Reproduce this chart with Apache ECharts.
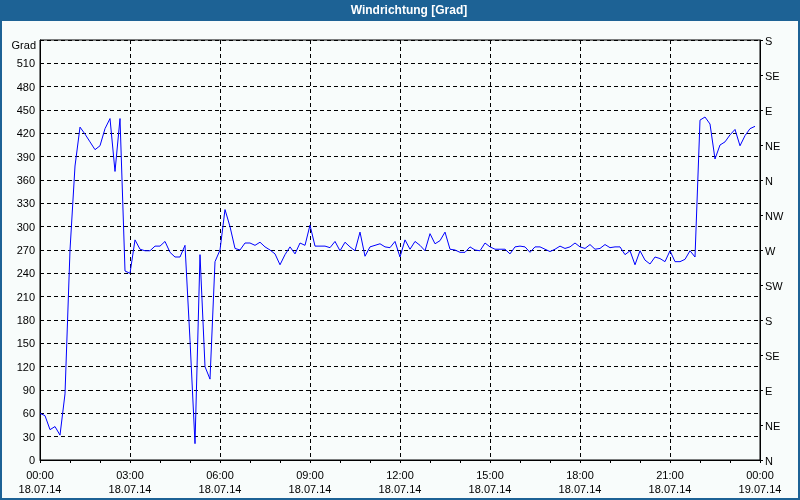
<!DOCTYPE html>
<html>
<head>
<meta charset="utf-8">
<script src="https://cdn.jsdelivr.net/npm/echarts@6/dist/echarts.min.js"></script>
<style>
html,body{margin:0;padding:0;background:#f8fcfb;}
#chart{width:800px;height:500px;}
</style>
</head>
<body>
<div id="chart"></div>
<script>
// Time of day in minutes since 18.07.14 00:00
const times = [
  0,10,20,30,40,50,60,70,80,90,100,110,120,130,140,150,160,170,180,190,
  200,210,220,230,240,250,260,270,280,290,300,310,320,330,340,350,360,370,380,390,
  400,410,420,430,440,450,460,470,480,490,500,510,520,530,540,550,560,570,580,590,
  600,610,620,630,640,650,660,670,680,690,700,710,720,730,740,750,760,770,780,790,
  800,810,820,830,840,850,860,870,880,890,900,910,920,930,940,950,960,970,980,990,
  1000,1010,1020,1030,1040,1050,1060,1070,1080,1090,1100,1110,1120,1130,1140,1150,1160,1170,1180,1190,
  1200,1210,1220,1230,1240,1250,1260,1270,1280,1290,1300,1310,1320,1330,1340,1350,1360,1370,1380,1390,
  1400,1410,1420,1430
];
// Wind direction [Grad]
const windDir = [
  60,57,39,43,32,85,270,378,428,419,409,399,404,426,439,371,439,243,240,283,
  271,269,269,275,275,281,267,261,261,276,154,21,264,120,104,255,270,322,300,272,
  270,279,279,276,280,274,270,265,251,264,274,265,279,276,302,275,275,275,273,281,
  269,280,274,269,293,262,274,276,278,274,273,281,261,283,271,281,276,269,291,278,
  282,293,271,270,267,267,274,270,269,279,274,271,271,271,265,274,275,274,267,274,
  274,271,268,271,275,272,274,279,274,272,277,271,272,277,273,274,274,264,269,251,
  269,257,252,261,259,255,269,255,255,258,269,261,437,441,432,387,405,409,418,425,
  404,417,426,429
];
const dirLabels = ['N','NE','E','SE','S','SW','W','NW','N','NE','E','SE','S'];
const dayLabels = ['18.07.14','19.07.14'];
const titleText = 'Windrichtung [Grad]';
const unitLabel = 'Grad';

const FONT = '"Liberation Sans", Arial, sans-serif';
const chart = echarts.init(document.getElementById('chart'), null, {renderer:'canvas'});

function pad2(n){ return (n < 10 ? '0' : '') + n; }

chart.setOption({
  animation: false,
  backgroundColor: '#f8fcfb',
  grid: {left:40, right:40, top:40, bottom:40, show:true, backgroundColor:'#f8fcfb', borderColor:'#000', borderWidth:1},
  graphic: [
    {type:'rect', z:100, shape:{x:0, y:0, width:800, height:21}, style:{fill:'#1d6295'}},
    {type:'rect', z:100, shape:{x:1, y:1, width:798, height:498}, style:{fill:'none', stroke:'#1d6295', lineWidth:2}},
    {type:'text', z:101, style:{text:titleText, x:409, y:11, fill:'#ffffff', fontFamily:FONT, fontSize:12, fontWeight:'bold', textAlign:'center', textVerticalAlign:'middle'}},
    {type:'text', z:101, style:{text:unitLabel, x:36, y:46, fill:'#000', fontFamily:FONT, fontSize:11, textAlign:'right', textVerticalAlign:'middle'}}
  ],
  xAxis: {
    type:'value', min:0, max:1440, interval:180,
    axisLine:{show:true, lineStyle:{color:'#000', width:1}},
    axisTick:{show:true, length:3, lineStyle:{color:'#000'}},
    minorTick:{show:true, splitNumber:3, length:3, lineStyle:{color:'#000'}},
    splitLine:{show:true, lineStyle:{color:'#000', width:1, type:[4,3]}},
    axisLabel:{
      color:'#000', fontFamily:FONT, fontSize:11, lineHeight:14, margin:9,
      formatter: function(v){
        const m = v % 1440;
        const day = v >= 1440 ? dayLabels[1] : dayLabels[0];
        return pad2(Math.floor(m/60)) + ':' + pad2(m % 60) + '\n' + day;
      }
    }
  },
  yAxis: [
    {
      type:'value', position:'left', min:0, max:540, interval:30,
      axisLine:{show:true, lineStyle:{color:'#000'}},
      axisTick:{show:false},
      splitLine:{show:true, lineStyle:{color:'#000', width:1, type:[4,3]}},
      axisLabel:{color:'#000', fontFamily:FONT, fontSize:11, margin:5,
        formatter: function(v){ return v === 540 ? '' : '{n|' + v + '}'; },
        rich:{n:{fontFamily:FONT, fontSize:11, color:'#000', padding:[2,0,0,0]}}}
    },
    {
      type:'value', position:'right', min:0, max:540, interval:45,
      axisLine:{show:true, lineStyle:{color:'#000'}},
      axisTick:{show:true, length:3, lineStyle:{color:'#000'}},
      splitLine:{show:false},
      axisLabel:{color:'#000', fontFamily:FONT, fontSize:11, margin:5,
        formatter: function(v){ return '{d|' + dirLabels[Math.round(v/45)] + '}'; },
        rich:{d:{fontFamily:FONT, fontSize:11, color:'#000', padding:[4,0,0,0]}}}
    }
  ],
  series: [{
    type:'line', yAxisIndex:0,
    data: times.map(function(t,i){ return [t, windDir[i]]; }),
    showSymbol:false, symbol:'none',
    lineStyle:{color:'#0000ff', width:1},
    itemStyle:{color:'#0000ff'}
  }]
});
</script>
</body>
</html>
